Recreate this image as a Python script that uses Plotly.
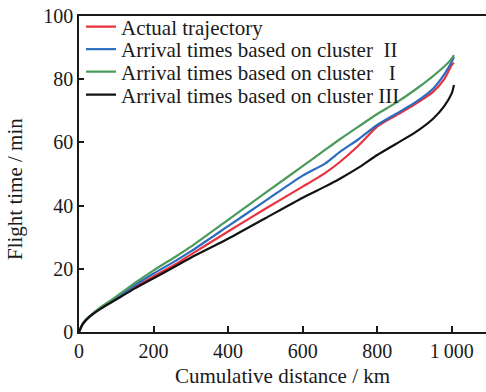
import plotly.graph_objects as go

dist = [0, 10, 30, 60, 100, 150, 200, 260, 300, 400, 500, 600, 660, 700, 750, 800, 850, 900, 950, 980, 1000, 1006]

actual = [0, 2.6, 5.1, 7.7, 10.6, 14.2, 17.6, 21.5, 24.5, 31.8, 39.0, 46.0, 50.3, 53.8, 59.0, 65.0, 68.5, 72.0, 76.0, 80.0, 84.5, 85.2]
cluster2 = [0, 2.6, 5.1, 7.8, 10.8, 14.8, 18.5, 22.6, 25.5, 33.5, 41.5, 49.5, 53.3, 57.0, 61.0, 65.5, 69.0, 72.5, 77.0, 81.5, 85.5, 87.0]
cluster1 = [0, 2.6, 5.1, 8.0, 11.2, 15.5, 19.5, 23.9, 27.0, 35.5, 44.0, 52.5, 57.6, 61.0, 65.0, 69.0, 72.5, 76.5, 81.0, 84.0, 86.5, 87.6]
cluster3 = [0, 2.5, 5.0, 7.5, 10.3, 13.8, 17.0, 20.9, 23.5, 29.5, 36.0, 42.5, 46.0, 48.5, 52.0, 56.0, 59.5, 63.0, 67.5, 71.5, 75.5, 78.2]

names = ["Actual trajectory",
         "Arrival times based on cluster\u2002II",
         "Arrival times based on cluster\u2002 I",
         "Arrival times based on cluster III"]
series = [actual, cluster2, cluster1, cluster3]
colors = ["#e8323c", "#2b6cc0", "#4c9a5c", "#111111"]

x_ticks = [0, 200, 400, 600, 800, 1000]
x_tick_labels = ["0", "200", "400", "600", "800", "1\u2009000"]
y_ticks = [0, 20, 40, 60, 80, 100]

font = "Liberation Serif, Times New Roman, serif"

# pixel geometry of plot area
L, T, B = 79, 16, 60
W, H = 486, 392
plot_w = W - L
plot_h = H - T - B

legend_rows_px = [27, 49.5, 72, 95]
legend_keys = ["legend", "legend2", "legend3", "legend4"]

fig = go.Figure()
for name, ys, c, lk in zip(names, series, colors, legend_keys):
    fig.add_trace(go.Scatter(x=dist, y=ys, mode="lines", name=name, legend=lk,
                             line=dict(color=c, width=2.2, shape="spline", smoothing=0.6)))

legend_layout = {}
for lk, py in zip(legend_keys, legend_rows_px):
    legend_layout[lk] = dict(
        x=(81 - L) / plot_w, y=(H - B - py) / plot_h,
        xanchor="left", yanchor="middle",
        bgcolor="rgba(0,0,0,0)", borderwidth=0,
        font=dict(family=font, size=21, color="#1a1a1a"),
        itemwidth=30)

fig.update_layout(
    width=W, height=H,
    margin=dict(l=L, r=0, t=T, b=B),
    paper_bgcolor="white", plot_bgcolor="white",
    font=dict(family=font, size=20, color="#1a1a1a"),
    showlegend=True,
    xaxis=dict(range=[0, 1092], tickvals=x_ticks, ticktext=x_tick_labels,
               ticks="inside", ticklen=6, tickwidth=1.5, tickcolor="#1a1a1a",
               showline=True, linecolor="#1a1a1a", linewidth=1.5, mirror=True,
               showgrid=False, zeroline=False,
               title=dict(text="Cumulative distance / km", standoff=8,
                          font=dict(family=font, size=21))),
    yaxis=dict(range=[0, 100], tickvals=y_ticks,
               ticks="inside", ticklen=5, tickwidth=1.5, tickcolor="#1a1a1a",
               showline=True, linecolor="#1a1a1a", linewidth=1.5,
               showgrid=False, zeroline=False),
    annotations=[dict(text="Flight time / min",
                      x=(15 - L) / plot_w, y=(H - B - 189) / plot_h,
                      xref="paper", yref="paper", xanchor="center", yanchor="middle",
                      showarrow=False, textangle=-90,
                      font=dict(family=font, size=21))],
    **legend_layout
)

fig.write_html("out.html")
